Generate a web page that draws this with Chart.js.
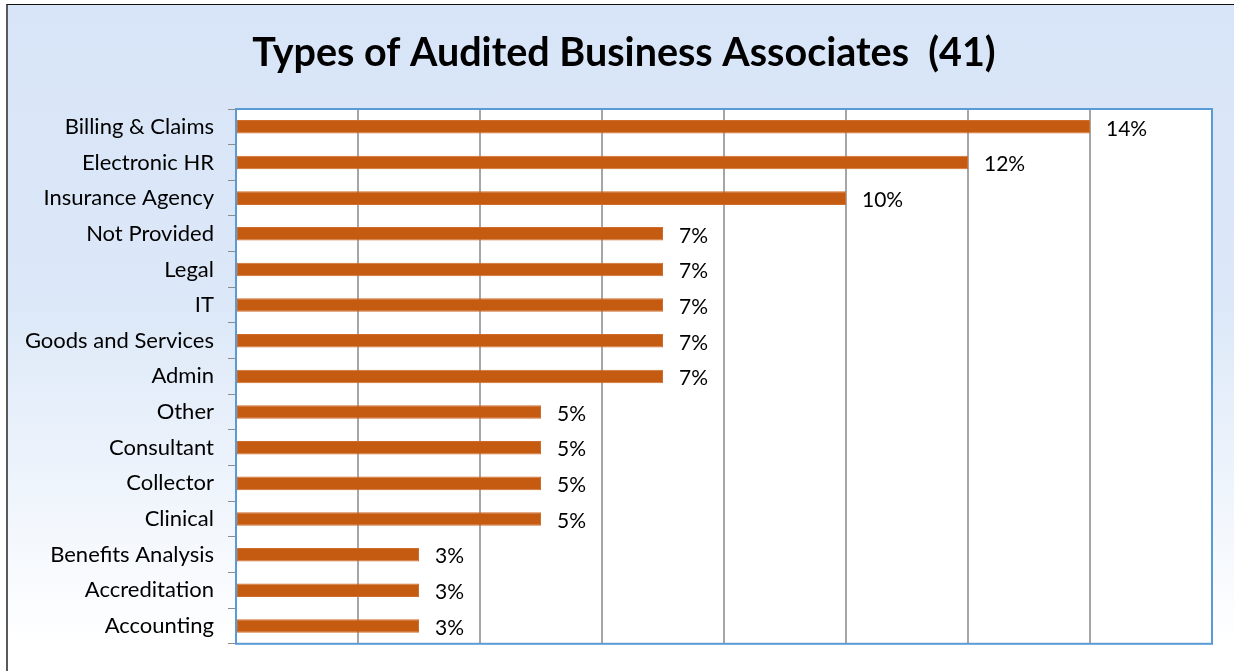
<!DOCTYPE html>
<html>
<head>
<meta charset="utf-8">
<script src="https://cdn.jsdelivr.net/npm/chart.js@4.4.1/dist/chart.umd.min.js"></script>
<style>
  html, body { margin: 0; padding: 0; background: #ffffff; }
  #wrap { position: absolute; left: 0; top: 0; width: 1234px; height: 671px; overflow: hidden; }
  #bg { position: absolute; left: 6px; top: 4px; width: 1228px; height: 667px;
        border-left: 2px solid #5a5a5a; border-top: 1px solid #111;
        background: linear-gradient(to bottom, #d8e5f8 0px, #dce8f8 300px, #ffffff 640px); }
  canvas { position: absolute; left: 0; top: 0; }
</style>
</head>
<body>
<div id="wrap">
  <div id="bg"></div>
  <canvas id="c" width="1234" height="671"></canvas>
</div>
<script>
const titleText = 'Types of Audited Business Associates  (41)';
const categories = ['Billing & Claims','Electronic HR','Insurance Agency','Not Provided','Legal','IT','Goods and Services','Admin','Other','Consultant','Collector','Clinical','Benefits Analysis','Accreditation','Accounting'];
const shares = [14, 12, 10, 7, 7, 7, 7, 7, 5, 5, 5, 5, 3, 3, 3];
const axisMax = 16;
const axisStep = 2;

const plotFrame = {
  id: 'plotFrame',
  beforeDraw(chart) {
    const a = chart.chartArea, ctx = chart.ctx;
    ctx.save();
    ctx.fillStyle = '#ffffff';
    ctx.fillRect(a.left, a.top, a.right - a.left, a.bottom - a.top);
    ctx.restore();
  },
  afterDatasetsDraw(chart) {
    const a = chart.chartArea, ctx = chart.ctx;
    ctx.save();
    ctx.strokeStyle = '#5b9bd5';
    ctx.lineWidth = 2;
    ctx.strokeRect(a.left, a.top, a.right - a.left, a.bottom - a.top);
    const meta = chart.getDatasetMeta(0);
    ctx.fillStyle = '#000';
    ctx.font = '21px Lato';
    ctx.textBaseline = 'middle';
    ctx.textAlign = 'left';
    meta.data.forEach((el, i) => {
      ctx.fillText(shares[i] + '%', el.x + 16, el.y + 2);
    });
    // chart title
    ctx.font = 'bold 39.5px Lato';
    ctx.textAlign = 'center';
    ctx.textBaseline = 'middle';
    ctx.fillText(titleText, 624, 53);
    ctx.restore();
  }
};

new Chart(document.getElementById('c'), {
  type: 'bar',
  data: {
    labels: categories,
    datasets: [{
      data: shares,
      backgroundColor: '#c55a11',
      borderColor: '#d06c2c',
      borderWidth: 1,
      borderSkipped: false,
      barPercentage: 0.38,
      categoryPercentage: 1.0
    }]
  },
  options: {
    indexAxis: 'y',
    responsive: false,
    animation: false,
    layout: { padding: { left: 0, right: 22, top: 109, bottom: 24 } },
    plugins: {
      legend: { display: false },
      tooltip: { enabled: false },
      title: { display: false }
    },
    scales: {
      x: {
        min: 0, max: axisMax,
        ticks: { display: false, stepSize: axisStep },
        grid: { color: '#a6a6a6', lineWidth: 2, drawTicks: false },
        border: { display: false },
        afterFit(s) { s.height = 0; }
      },
      y: {
        ticks: { color: '#000', font: { family: 'Lato', size: 22 }, padding: 14 },
        grid: { drawOnChartArea: false, color: '#8c8c8c', lineWidth: 1, tickLength: 8, offset: true },
        border: { display: false },
        afterFit(s) { s.width = 236; }
      }
    }
  },
  plugins: [plotFrame]
});
</script>
</body>
</html>
